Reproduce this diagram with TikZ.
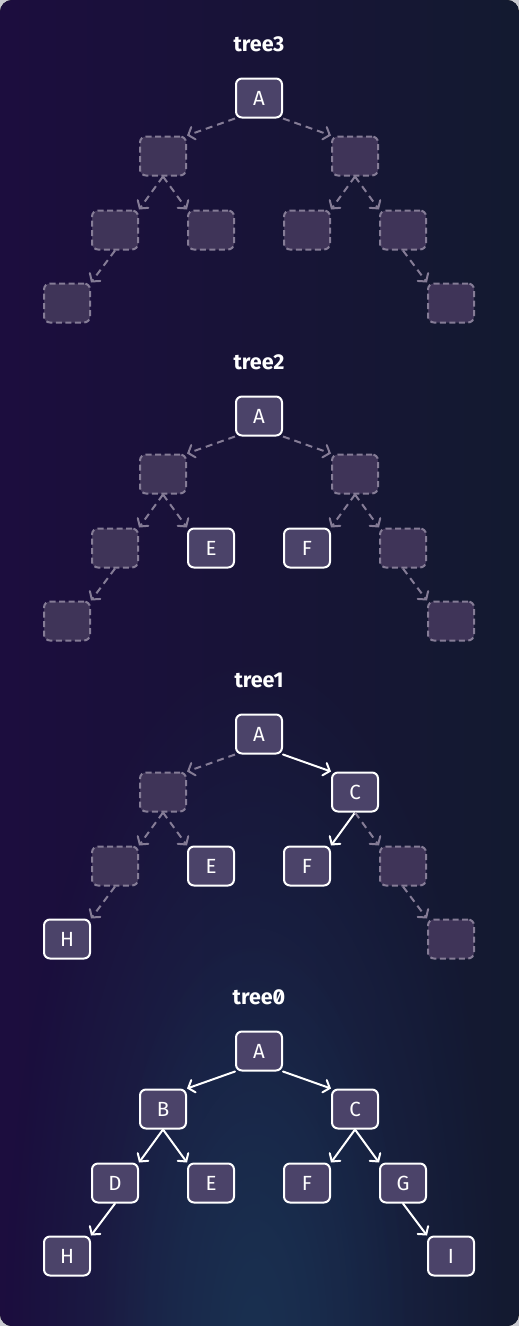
\documentclass[tikz,border=0pt]{standalone}
\usepackage{fontspec}
\setmainfont{Fira Sans}[RawFeature=+zero]
\usetikzlibrary{arrows.meta,fadings}
\tikzfading[name=glowfade, inner color=transparent!0, outer color=transparent!100]
\definecolor{outerc}{HTML}{C9CAD0}
\definecolor{bgL}{HTML}{1C0D3E}
\definecolor{bgM}{HTML}{1E1442}
\definecolor{bgR}{HTML}{131A30}
\definecolor{glowc}{HTML}{1A3252}
\definecolor{nodefill}{HTML}{4B4369}
\definecolor{ghostfill}{HTML}{3F3458}
\definecolor{ghostline}{HTML}{857C96}
\tikzset{
  tnode/.style={draw=white, line width=2pt, fill=nodefill, rounded corners=6pt,
    minimum width=46pt, minimum height=39pt, inner sep=0pt, text=white,
    font=\fontsize{20.5}{20.5}\selectfont},
  gnode/.style={draw=ghostline, line width=2pt, fill=ghostfill, rounded corners=6pt,
    dash pattern=on 6pt off 3.5pt, minimum width=46pt, minimum height=39pt, inner sep=0pt},
  ttl/.style={text=white, font=\fontsize{21.5}{21.5}\selectfont\bfseries},
  sedge/.style={draw=white, line width=2pt, line cap=round,
    -{Straight Barb[length=5.5pt,width=13pt,line cap=round]}},
  dedge/.style={draw=ghostline, line width=2pt, dash pattern=on 7pt off 5pt,
    -{Straight Barb[length=5.5pt,width=13pt,line cap=round]}}
}
\begin{document}
\begin{tikzpicture}[x=1pt,y=-1pt]
\useasboundingbox (0,0) rectangle (519,1326);
\fill[outerc] (0,0) rectangle (519,1326);
\fill[rounded corners=12pt, left color=bgL, middle color=bgM, right color=bgR] (0,0) rectangle (519,1326);
\begin{scope}
  \clip[rounded corners=12pt] (0,0) rectangle (519,1326);
  \fill[glowc, opacity=0.8, path fading=glowfade] (255,1340) ellipse (250 and 700);
  \fill[glowc, opacity=0.7, path fading=glowfade] (255,1340) ellipse (160 and 420);
\end{scope}

% ---------- tree3 ----------
\begin{scope}[shift={(0,44)}]
\node[ttl] (t3) at (259,0) {tree3};
\node[tnode] (t3A) at (259,54) {A};
\node[gnode] (t3B) at (163,112) {};
\node[gnode] (t3C) at (355,112) {};
\node[gnode] (t3D) at (115,186) {};
\node[gnode] (t3E) at (211,186) {};
\node[gnode] (t3F) at (307,186) {};
\node[gnode] (t3G) at (403,186) {};
\node[gnode] (t3H) at (67,259) {};
\node[gnode] (t3I) at (451,259) {};
\draw[dedge] (t3A.south west) -- (t3B.north east);
\draw[dedge] (t3A.south east) -- (t3C.north west);
\draw[dedge] (t3B.south) -- (t3D.north east);
\draw[dedge] (t3B.south) -- (t3E.north west);
\draw[dedge] (t3C.south) -- (t3F.north east);
\draw[dedge] (t3C.south) -- (t3G.north west);
\draw[dedge] (t3D.south) -- (t3H.north east);
\draw[dedge] (t3G.south) -- (t3I.north west);
\end{scope}

% ---------- tree2 ----------
\begin{scope}[shift={(0,362)}]
\node[ttl] (t2) at (259,0) {tree2};
\node[tnode] (t2A) at (259,54) {A};
\node[gnode] (t2B) at (163,112) {};
\node[gnode] (t2C) at (355,112) {};
\node[gnode] (t2D) at (115,186) {};
\node[tnode] (t2E) at (211,186) {E};
\node[tnode] (t2F) at (307,186) {F};
\node[gnode] (t2G) at (403,186) {};
\node[gnode] (t2H) at (67,259) {};
\node[gnode] (t2I) at (451,259) {};
\draw[dedge] (t2A.south west) -- (t2B.north east);
\draw[dedge] (t2A.south east) -- (t2C.north west);
\draw[dedge] (t2B.south) -- (t2D.north east);
\draw[dedge] (t2B.south) -- (t2E.north west);
\draw[dedge] (t2C.south) -- (t2F.north east);
\draw[dedge] (t2C.south) -- (t2G.north west);
\draw[dedge] (t2D.south) -- (t2H.north east);
\draw[dedge] (t2G.south) -- (t2I.north west);
\end{scope}

% ---------- tree1 ----------
\begin{scope}[shift={(0,680)}]
\node[ttl] (t1) at (259,0) {tree1};
\node[tnode] (t1A) at (259,54) {A};
\node[gnode] (t1B) at (163,112) {};
\node[tnode] (t1C) at (355,112) {C};
\node[gnode] (t1D) at (115,186) {};
\node[tnode] (t1E) at (211,186) {E};
\node[tnode] (t1F) at (307,186) {F};
\node[gnode] (t1G) at (403,186) {};
\node[tnode] (t1H) at (67,259) {H};
\node[gnode] (t1I) at (451,259) {};
\draw[dedge] (t1A.south west) -- (t1B.north east);
\draw[sedge] (t1A.south east) -- (t1C.north west);
\draw[dedge] (t1B.south) -- (t1D.north east);
\draw[dedge] (t1B.south) -- (t1E.north west);
\draw[sedge] (t1C.south) -- (t1F.north east);
\draw[dedge] (t1C.south) -- (t1G.north west);
\draw[dedge] (t1D.south) -- (t1H.north east);
\draw[dedge] (t1G.south) -- (t1I.north west);
\end{scope}

% ---------- tree0 ----------
\begin{scope}[shift={(0,997)}]
\node[ttl] (t0) at (259,0) {tree0};
\node[tnode] (t0A) at (259,54) {A};
\node[tnode] (t0B) at (163,112) {B};
\node[tnode] (t0C) at (355,112) {C};
\node[tnode] (t0D) at (115,186) {D};
\node[tnode] (t0E) at (211,186) {E};
\node[tnode] (t0F) at (307,186) {F};
\node[tnode] (t0G) at (403,186) {G};
\node[tnode] (t0H) at (67,259) {H};
\node[tnode] (t0I) at (451,259) {I};
\draw[sedge] (t0A.south west) -- (t0B.north east);
\draw[sedge] (t0A.south east) -- (t0C.north west);
\draw[sedge] (t0B.south) -- (t0D.north east);
\draw[sedge] (t0B.south) -- (t0E.north west);
\draw[sedge] (t0C.south) -- (t0F.north east);
\draw[sedge] (t0C.south) -- (t0G.north west);
\draw[sedge] (t0D.south) -- (t0H.north east);
\draw[sedge] (t0G.south) -- (t0I.north west);
\end{scope}
\end{tikzpicture}
\end{document}
